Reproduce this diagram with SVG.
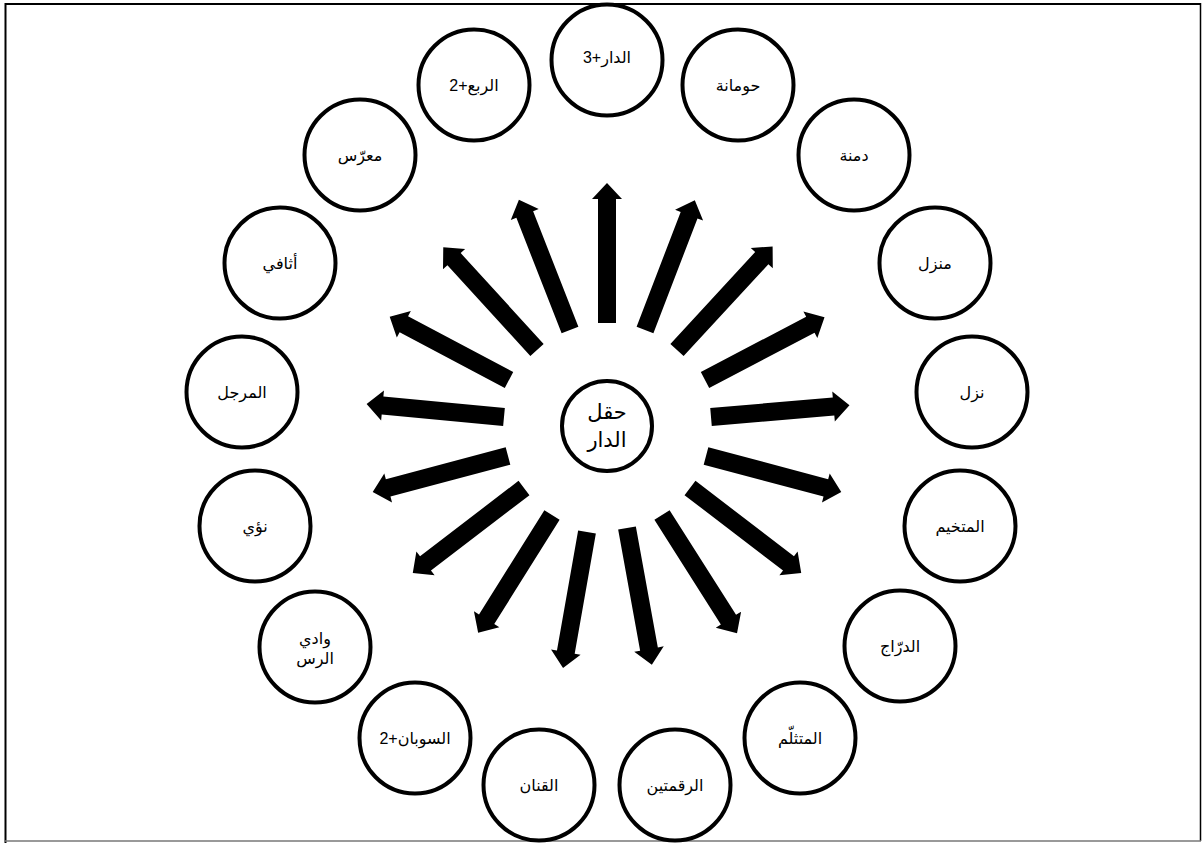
<svg xmlns="http://www.w3.org/2000/svg" width="1203" height="843" viewBox="0 0 1203 843">
<style>
.n{fill:#fff;stroke:#000;stroke-width:4}
.t{font-family:"Liberation Sans","DejaVu Sans",sans-serif;font-size:16px;fill:#000;text-anchor:middle;direction:rtl}
.c{font-size:21px}
.a{fill:#000}
</style>
<rect x="0" y="0" width="1203" height="843" fill="#fff"/>
<g id="frame">
<line x1="5" y1="4" x2="1201" y2="4" stroke="#000" stroke-width="2"/>
<line x1="5.5" y1="3" x2="5.5" y2="843" stroke="#000" stroke-width="2"/>
<line x1="1200.5" y1="3" x2="1200.5" y2="841" stroke="#000" stroke-width="1.5"/>
<line x1="5" y1="841" x2="1201" y2="841" stroke="#777" stroke-width="1.5"/>
</g>
<g id="connectors">
<path class="a" transform="translate(607,323) rotate(-90)" d="M0,-9H124V-15L140,0L124,15V9H0Z"/>
<path class="a" transform="translate(570,330) rotate(-111.4)" d="M0,-9H124V-15L140,0L124,15V9H0Z"/>
<path class="a" transform="translate(645,330) rotate(-69)" d="M0,-9H123V-15L139,0L123,15V9H0Z"/>
<path class="a" transform="translate(537,350) rotate(-132.4)" d="M0,-9H123V-15L139,0L123,15V9H0Z"/>
<path class="a" transform="translate(677,350) rotate(-47.3)" d="M0,-9H125V-15L141,0L125,15V9H0Z"/>
<path class="a" transform="translate(509,380) rotate(-152.1)" d="M0,-9H119V-15L135,0L119,15V9H0Z"/>
<path class="a" transform="translate(705,380) rotate(-27.7)" d="M0,-9H119V-15L135,0L119,15V9H0Z"/>
<path class="a" transform="translate(504,417) rotate(-174.6)" d="M0,-9H122V-15L138,0L122,15V9H0Z"/>
<path class="a" transform="translate(711,417) rotate(-4.9)" d="M0,-9H123V-15L139,0L123,15V9H0Z"/>
<path class="a" transform="translate(508,456) rotate(165.1)" d="M0,-9H124V-15L140,0L124,15V9H0Z"/>
<path class="a" transform="translate(706,456) rotate(14.9)" d="M0,-9H124V-15L140,0L124,15V9H0Z"/>
<path class="a" transform="translate(524,488) rotate(142.6)" d="M0,-9H124V-15L140,0L124,15V9H0Z"/>
<path class="a" transform="translate(690,488) rotate(37.4)" d="M0,-9H124V-15L140,0L124,15V9H0Z"/>
<path class="a" transform="translate(552,515) rotate(122.1)" d="M0,-9H123V-15L139,0L123,15V9H0Z"/>
<path class="a" transform="translate(662,515) rotate(57.6)" d="M0,-9H124V-15L140,0L124,15V9H0Z"/>
<path class="a" transform="translate(587,532) rotate(100)" d="M0,-9H122V-15L138,0L122,15V9H0Z"/>
<path class="a" transform="translate(627,528) rotate(79.7)" d="M0,-9H123V-15L139,0L123,15V9H0Z"/>
</g>
<g id="center"><circle class="n" cx="607" cy="426" r="45"/><text class="t c" x="607"><tspan x="607" y="419">حقل</tspan><tspan x="607" y="447">الدار</tspan></text></g>
<g id="n1"><circle class="n" cx="607" cy="60" r="55.5"/><text class="t" x="607" y="63">الدار+3</text></g>
<g id="n2"><circle class="n" cx="474" cy="85" r="55.5"/><text class="t" x="474" y="91">الربع+2</text></g>
<g id="n3"><circle class="n" cx="738" cy="85" r="55.5"/><text class="t" x="738" y="91">حومانة</text></g>
<g id="n4"><circle class="n" cx="360" cy="155" r="55.5"/><text class="t" x="360" y="161">معرّس</text></g>
<g id="n5"><circle class="n" cx="854" cy="155" r="55.5"/><text class="t" x="854" y="161">دمنة</text></g>
<g id="n6"><circle class="n" cx="280" cy="263" r="55.5"/><text class="t" x="280" y="269">أثافي</text></g>
<g id="n7"><circle class="n" cx="935" cy="263" r="55.5"/><text class="t" x="935" y="269">منزل</text></g>
<g id="n8"><circle class="n" cx="242" cy="392" r="55.5"/><text class="t" x="242" y="398">المرجل</text></g>
<g id="n9"><circle class="n" cx="972" cy="392" r="55.5"/><text class="t" x="972" y="398">نزل</text></g>
<g id="n10"><circle class="n" cx="255" cy="526" r="55.5"/><text class="t" x="255" y="532">نؤي</text></g>
<g id="n11"><circle class="n" cx="960" cy="526" r="55.5"/><text class="t" x="960" y="532">المتخيم</text></g>
<g id="n12"><circle class="n" cx="315" cy="647" r="55.5"/><text class="t" x="315"><tspan x="315" y="644">وادي</tspan><tspan x="315" y="664">الرس</tspan></text></g>
<g id="n13"><circle class="n" cx="900" cy="646" r="55.5"/><text class="t" x="900" y="652">الدرّاج</text></g>
<g id="n14"><circle class="n" cx="415" cy="738" r="55.5"/><text class="t" x="415" y="744">السوبان+2</text></g>
<g id="n15"><circle class="n" cx="800" cy="738" r="55.5"/><text class="t" x="800" y="744">المتثلّم</text></g>
<g id="n16"><circle class="n" cx="539" cy="785" r="55.5"/><text class="t" x="539" y="791">القنان</text></g>
<g id="n17"><circle class="n" cx="675" cy="785" r="55.5"/><text class="t" x="675" y="791">الرقمتين</text></g>
</svg>
